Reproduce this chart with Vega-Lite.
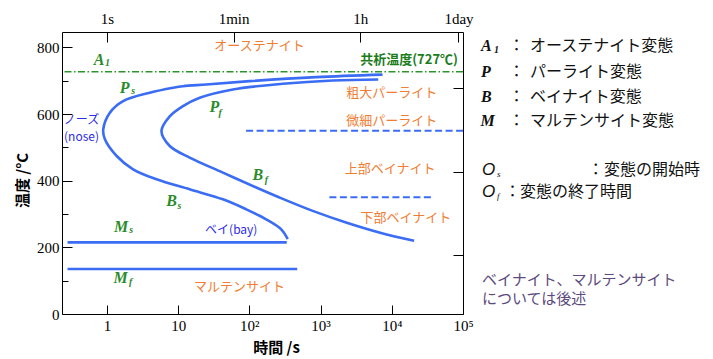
{
  "$schema": "https://vega.github.io/schema/vega-lite/v6.json",
  "background": "white",
  "padding": {"left": 15, "top": 10, "right": 0, "bottom": 0},
  "spacing": 9,
  "bounds": "flush",
  "config": {
    "view": {"stroke": "black", "strokeWidth": 1},
    "font": "Noto Sans CJK JP"
  },
  "datasets": {
    "a1": [{"T": 727}],
    "curves": [
      {"series": "start", "i": 0, "t": 7413, "T": 718},
      {"series": "start", "i": 1, "t": 865, "T": 710.5},
      {"series": "start", "i": 2, "t": 100.7, "T": 698.5},
      {"series": "start", "i": 3, "t": 24.9, "T": 688.6},
      {"series": "start", "i": 4, "t": 11.7, "T": 683.5},
      {"series": "start", "i": 5, "t": 8.49, "T": 678.8},
      {"series": "start", "i": 6, "t": 4.0, "T": 663.8},
      {"series": "start", "i": 7, "t": 1.69, "T": 638.6},
      {"series": "start", "i": 8, "t": 1.10, "T": 603.9},
      {"series": "start", "i": 9, "t": 0.888, "T": 553.9},
      {"series": "start", "i": 10, "t": 0.937, "T": 524},
      {"series": "start", "i": 11, "t": 1.37, "T": 474},
      {"series": "start", "i": 12, "t": 2.33, "T": 434},
      {"series": "start", "i": 13, "t": 4.97, "T": 404},
      {"series": "start", "i": 14, "t": 14.5, "T": 374},
      {"series": "start", "i": 15, "t": 42.5, "T": 344},
      {"series": "start", "i": 16, "t": 90.5, "T": 314},
      {"series": "start", "i": 17, "t": 172, "T": 284},
      {"series": "start", "i": 18, "t": 280, "T": 254},
      {"series": "start", "i": 19, "t": 346, "T": 224.6},
      {"series": "finish", "i": 0, "t": 6450, "T": 703.6},
      {"series": "finish", "i": 1, "t": 1477, "T": 700.6},
      {"series": "finish", "i": 2, "t": 294, "T": 690.7},
      {"series": "finish", "i": 3, "t": 58.7, "T": 673.7},
      {"series": "finish", "i": 4, "t": 20.1, "T": 648.8},
      {"series": "finish", "i": 5, "t": 11.7, "T": 623.7},
      {"series": "finish", "i": 6, "t": 7.62, "T": 592.8},
      {"series": "finish", "i": 7, "t": 5.83, "T": 548.8},
      {"series": "finish", "i": 8, "t": 7.62, "T": 503.9},
      {"series": "finish", "i": 9, "t": 14.5, "T": 469.2},
      {"series": "finish", "i": 10, "t": 42.5, "T": 424.3},
      {"series": "finish", "i": 11, "t": 125, "T": 379.4},
      {"series": "finish", "i": 12, "t": 265, "T": 349.4},
      {"series": "finish", "i": 13, "t": 775, "T": 309.3},
      {"series": "finish", "i": 14, "t": 2277, "T": 274.5},
      {"series": "finish", "i": 15, "t": 6660, "T": 244.6},
      {"series": "finish", "i": 16, "t": 20600, "T": 219.5},
      {"series": "Ms", "i": 0, "t": 0.28, "T": 215},
      {"series": "Ms", "i": 1, "t": 335, "T": 215},
      {"series": "Mf", "i": 0, "t": 0.28, "T": 135},
      {"series": "Mf", "i": 1, "t": 470, "T": 135}
    ],
    "boundaries": [
      {"series": "fine pearlite", "i": 0, "t": 90, "T": 550},
      {"series": "fine pearlite", "i": 1, "t": 100000, "T": 550},
      {"series": "lower bainite", "i": 0, "t": 1330, "T": 350},
      {"series": "lower bainite", "i": 1, "t": 39000, "T": 350}
    ],
    "phases": [
      {"t": 139, "T": 803, "text": "オーステナイト"},
      {"t": 9960, "T": 661.7, "text": "粗大パーライト"},
      {"t": 9960, "T": 578.7, "text": "微細パーライト"},
      {"t": 9500, "T": 434, "text": "上部ベイナイト"},
      {"t": 15740, "T": 289.5, "text": "下部ベイナイト"},
      {"t": 72.9, "T": 80, "text": "マルテンサイト"}
    ],
    "shapes": [
      {"t": 0.44, "T": 583, "text": "ノーズ"},
      {"t": 0.44, "T": 530, "text": "(nose)"},
      {"t": 55.7, "T": 252.4, "text": "ベイ(bay)"}
    ],
    "eutectoid": [{"t": 85100, "T": 763, "text": "共析温度(727℃)"}],
    "symbols": [
      {"t": 0.773, "T": 761.1, "text": "A"},
      {"t": 1.77, "T": 678.7, "text": "P"},
      {"t": 32.2, "T": 621.3, "text": "P"},
      {"t": 131.5, "T": 417.7, "text": "B"},
      {"t": 8.06, "T": 337.7, "text": "B"},
      {"t": 1.585, "T": 262, "text": "M"},
      {"t": 1.56, "T": 107.2, "text": "M"}
    ],
    "subscripts": [
      {"t": 1.016, "T": 753.6, "text": "1"},
      {"t": 2.34, "T": 668.6, "text": "s"},
      {"t": 38.9, "T": 601.8, "text": "f"},
      {"t": 174, "T": 401.8, "text": "f"},
      {"t": 10.4, "T": 324.3, "text": "s"},
      {"t": 2.19, "T": 251.5, "text": "s"},
      {"t": 2.15, "T": 94.9, "text": "f"}
    ],
    "keyLetters": [
      {"x": 0.0378, "y": 0.0496, "text": "A"},
      {"x": 0.0378, "y": 0.142, "text": "P"},
      {"x": 0.0378, "y": 0.230, "text": "B"},
      {"x": 0.0357, "y": 0.316, "text": "M"}
    ],
    "keyLetterSubs": [{"x": 0.0924, "y": 0.0638, "text": "1"}],
    "keyO": [
      {"x": 0.042, "y": 0.489, "text": "O"},
      {"x": 0.042, "y": 0.567, "text": "O"}
    ],
    "keyOSubs": [
      {"x": 0.105, "y": 0.504, "text": "s"},
      {"x": 0.105, "y": 0.582, "text": "f"}
    ],
    "keyColons": [
      {"x": 0.187, "y": 0.0496, "text": "："},
      {"x": 0.187, "y": 0.142, "text": "："},
      {"x": 0.187, "y": 0.230, "text": "："},
      {"x": 0.187, "y": 0.316, "text": "："},
      {"x": 0.52, "y": 0.489, "text": "："},
      {"x": 0.17, "y": 0.567, "text": "："}
    ],
    "keyText": [
      {"x": 0.244, "y": 0.0496, "text": "オーステナイト変態"},
      {"x": 0.244, "y": 0.142, "text": "パーライト変態"},
      {"x": 0.244, "y": 0.230, "text": "ベイナイト変態"},
      {"x": 0.244, "y": 0.316, "text": "マルテンサイト変態"},
      {"x": 0.555, "y": 0.489, "text": "変態の開始時"},
      {"x": 0.202, "y": 0.567, "text": "変態の終了時間"}
    ],
    "note": [
      {"x": 0.042, "y": 0.879, "text": "ベイナイト、マルテンサイト"},
      {"x": 0.042, "y": 0.947, "text": "については後述"}
    ]
  },
  "hconcat": [
    {
      "width": 401,
      "height": 282,
      "layer": [
        {
          "data": {"name": "a1"},
          "mark": {"type": "rule", "color": "#2a962a", "strokeWidth": 1.5, "strokeDash": [7, 2.5, 1.5, 2.5]},
          "encoding": {
            "y": {"field": "T", "type": "quantitative", "scale": {"domain": [0, 846], "nice": false}, "axis": null}
          }
        },
        {
          "data": {"name": "curves"},
          "mark": {"type": "line", "color": "#3a6cf4", "strokeWidth": 2.6, "interpolate": "catmull-rom"},
          "encoding": {
            "x": {
              "field": "t", "type": "quantitative",
              "scale": {"type": "log", "domain": [0.234, 100000], "nice": false},
              "axis": {
                "orient": "bottom", "values": [1, 10, 100, 1000, 10000, 100000],
                "labelExpr": "datum.value == 1 ? '1' : datum.value == 10 ? '10' : datum.value == 100 ? '10²' : datum.value == 1000 ? '10³' : datum.value == 10000 ? '10⁴' : '10⁵'",
                "domain": false, "grid": false,
                "tickSize": -9, "tickColor": "black", "tickWidth": 1,
                "labelPadding": 13, "labelFont": "Liberation Serif", "labelFontSize": 15, "labelColor": "black",
                "labelFlush": false, "labelOverlap": false,
                "title": "時間 /s", "titleFont": "Noto Sans CJK JP", "titleFontSize": 15, "titleFontWeight": "bold",
                "titleColor": "black", "titlePadding": 7, "titleX": 214
              }
            },
            "y": {
              "field": "T", "type": "quantitative",
              "scale": {"domain": [0, 846], "nice": false},
              "axis": {
                "orient": "left", "values": [0, 100, 200, 300, 400, 500, 600, 700, 800],
                "labelExpr": "datum.value % 200 === 0 ? datum.label : ''",
                "domain": false, "grid": false,
                "tickSize": {"condition": {"test": "datum.value % 200 === 0", "value": -10}, "value": -6},
                "tickColor": "black", "tickWidth": 1,
                "labelPadding": 13, "labelFont": "Liberation Serif", "labelFontSize": 15, "labelColor": "black",
                "labelFlush": false, "labelOverlap": false,
                "title": "温度 /°C", "titleFont": "Noto Sans CJK JP", "titleFontSize": 15, "titleFontWeight": "bold",
                "titleColor": "black", "titlePadding": 6, "titleY": 148
              }
            },
            "detail": {"field": "series"},
            "order": {"field": "i", "type": "quantitative"}
          }
        },
        {
          "data": {"name": "boundaries"},
          "mark": {"type": "line", "color": "#3a6cf4", "strokeWidth": 2, "strokeDash": [7, 3.5]},
          "encoding": {
            "x": {
              "field": "t", "type": "quantitative",
              "scale": {"type": "log", "domain": [0.234, 100000], "nice": false},
              "axis": {
                "orient": "top", "values": [1, 60, 3600, 86400],
                "labelExpr": "datum.value == 1 ? '1s' : datum.value == 60 ? '1min' : datum.value == 3600 ? '1h' : '1day'",
                "domain": false, "grid": false,
                "tickSize": -10, "tickColor": "black", "tickWidth": 1,
                "labelPadding": 16, "labelFont": "Liberation Serif", "labelFontSize": 15, "labelColor": "black",
                "labelFlush": false, "labelOverlap": false, "title": null
              }
            },
            "y": {
              "field": "T", "type": "quantitative",
              "scale": {"domain": [0, 846], "nice": false},
              "axis": {
                "orient": "right", "values": [176.85, 426.85, 676.85],
                "labels": false, "domain": false, "grid": false,
                "tickSize": -10, "tickColor": "black", "tickWidth": 1, "title": null
              }
            },
            "detail": {"field": "series"},
            "order": {"field": "i", "type": "quantitative"}
          }
        },
        {
          "data": {"name": "phases"},
          "mark": {"type": "text", "font": "Noto Sans CJK JP", "fontSize": 13, "color": "#f07d32", "align": "center", "baseline": "middle"},
          "encoding": {
            "x": {"field": "t", "type": "quantitative", "scale": {"type": "log", "domain": [0.234, 100000], "nice": false}, "axis": null},
            "y": {"field": "T", "type": "quantitative", "scale": {"domain": [0, 846], "nice": false}, "axis": null},
            "text": {"field": "text"}
          }
        },
        {
          "data": {"name": "shapes"},
          "mark": {"type": "text", "font": "Noto Sans CJK JP", "fontSize": 12, "color": "#2b2be8", "align": "center", "baseline": "middle"},
          "encoding": {
            "x": {"field": "t", "type": "quantitative", "scale": {"type": "log", "domain": [0.234, 100000], "nice": false}, "axis": null},
            "y": {"field": "T", "type": "quantitative", "scale": {"domain": [0, 846], "nice": false}, "axis": null},
            "text": {"field": "text"}
          }
        },
        {
          "data": {"name": "eutectoid"},
          "mark": {"type": "text", "font": "Noto Sans CJK JP", "fontSize": 13, "fontWeight": "bold", "color": "#1c7c1c", "align": "right", "baseline": "middle"},
          "encoding": {
            "x": {"field": "t", "type": "quantitative", "scale": {"type": "log", "domain": [0.234, 100000], "nice": false}, "axis": null},
            "y": {"field": "T", "type": "quantitative", "scale": {"domain": [0, 846], "nice": false}, "axis": null},
            "text": {"field": "text"}
          }
        },
        {
          "data": {"name": "symbols"},
          "mark": {"type": "text", "font": "Liberation Serif", "fontSize": 16, "fontStyle": "italic", "fontWeight": "bold", "color": "#2a8c2a", "align": "center", "baseline": "middle"},
          "encoding": {
            "x": {"field": "t", "type": "quantitative", "scale": {"type": "log", "domain": [0.234, 100000], "nice": false}, "axis": null},
            "y": {"field": "T", "type": "quantitative", "scale": {"domain": [0, 846], "nice": false}, "axis": null},
            "text": {"field": "text"}
          }
        },
        {
          "data": {"name": "subscripts"},
          "mark": {"type": "text", "font": "Liberation Serif", "fontSize": 10, "fontStyle": "italic", "fontWeight": "bold", "color": "#2a8c2a", "align": "center", "baseline": "middle"},
          "encoding": {
            "x": {"field": "t", "type": "quantitative", "scale": {"type": "log", "domain": [0.234, 100000], "nice": false}, "axis": null},
            "y": {"field": "T", "type": "quantitative", "scale": {"domain": [0, 846], "nice": false}, "axis": null},
            "text": {"field": "text"}
          }
        }
      ],
      "resolve": {"axis": {"x": "independent", "y": "independent"}}
    },
    {
      "width": 238,
      "height": 282,
      "view": {"stroke": null},
      "encoding": {
        "x": {"field": "x", "type": "quantitative", "scale": {"domain": [0, 1], "nice": false}, "axis": null},
        "y": {"field": "y", "type": "quantitative", "scale": {"domain": [0, 1], "nice": false, "reverse": true}, "axis": null},
        "text": {"field": "text"}
      },
      "layer": [
        {
          "data": {"name": "keyLetters"},
          "mark": {"type": "text", "font": "Liberation Serif", "fontSize": 16, "fontStyle": "italic", "fontWeight": "bold", "color": "#111111", "align": "left", "baseline": "middle"}
        },
        {
          "data": {"name": "keyLetterSubs"},
          "mark": {"type": "text", "font": "Liberation Serif", "fontSize": 10, "fontStyle": "italic", "fontWeight": "bold", "color": "#111111", "align": "left", "baseline": "middle"}
        },
        {
          "data": {"name": "keyO"},
          "mark": {"type": "text", "font": "Liberation Sans", "fontSize": 17, "fontStyle": "italic", "color": "#111111", "align": "left", "baseline": "middle"}
        },
        {
          "data": {"name": "keyOSubs"},
          "mark": {"type": "text", "font": "Liberation Serif", "fontSize": 9, "fontStyle": "italic", "color": "#111111", "align": "left", "baseline": "middle"}
        },
        {
          "data": {"name": "keyColons"},
          "mark": {"type": "text", "font": "Noto Sans CJK JP", "fontSize": 16, "color": "#111111", "align": "center", "baseline": "middle"}
        },
        {
          "data": {"name": "keyText"},
          "mark": {"type": "text", "font": "Noto Sans CJK JP", "fontSize": 16, "color": "#111111", "align": "left", "baseline": "middle"}
        },
        {
          "data": {"name": "note"},
          "mark": {"type": "text", "font": "Noto Sans CJK JP", "fontSize": 15, "color": "#5c4b7c", "align": "left", "baseline": "middle"}
        }
      ]
    }
  ]
}
